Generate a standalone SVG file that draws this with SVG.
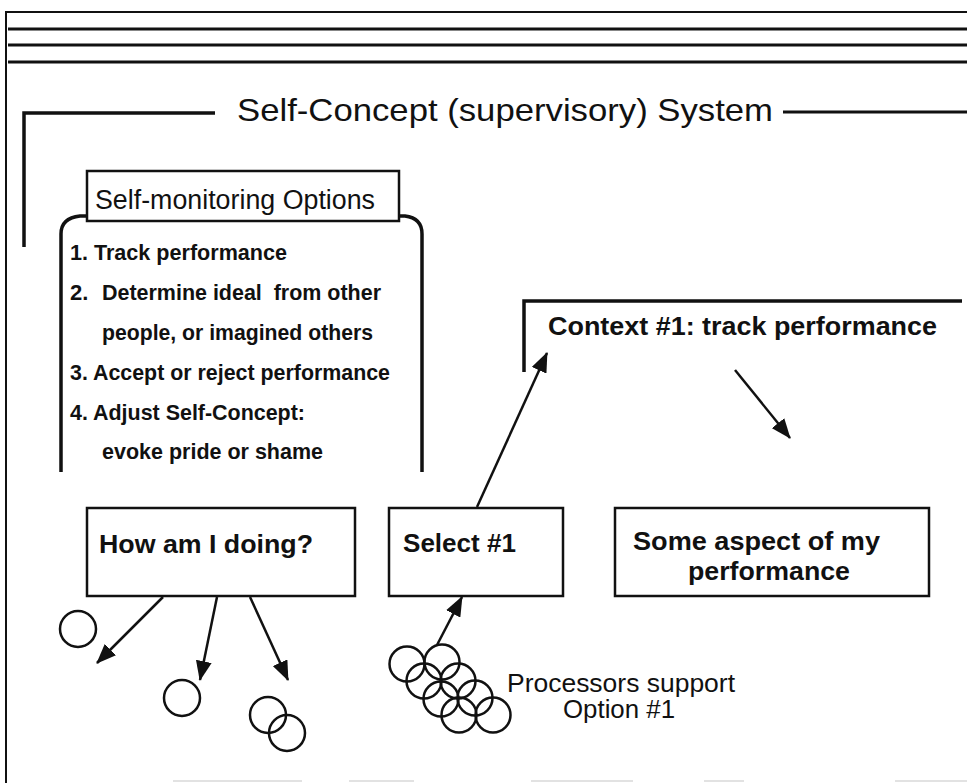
<svg xmlns="http://www.w3.org/2000/svg" width="967" height="783" viewBox="0 0 967 783">
<style>
.ln{stroke:#111;fill:none;stroke-linecap:butt}
.box{fill:#fff;stroke:#111;stroke-width:2.5}
.t{font-family:"Liberation Sans",Arial,Helvetica,sans-serif;fill:#111}
.b{font-weight:bold}
.c{fill:none;stroke:#111;stroke-width:2.5}
.faint{stroke:#e2e2e2;stroke-width:2}
</style>
<defs>
<marker id="ah" viewBox="0 0 20 16" refX="19" refY="8" markerWidth="20" markerHeight="16" markerUnits="userSpaceOnUse" orient="auto">
<path d="M0,0 L20,8 L0,16 Z" fill="#111"/>
</marker>
</defs>
<rect width="967" height="783" fill="#fff"/>
<g id="frame">
<path class="ln" stroke-width="2" d="M967,12 L6,12 L6,783"/>
<line class="ln" stroke-width="3" x1="8" y1="29" x2="967" y2="29"/>
<line class="ln" stroke-width="3" x1="8" y1="45" x2="967" y2="45"/>
<line class="ln" stroke-width="3" x1="8" y1="62" x2="967" y2="62"/>
<line class="faint" x1="173" y1="781" x2="302" y2="781"/>
<line class="faint" x1="349" y1="781" x2="414" y2="781"/>
<line class="faint" x1="531" y1="781" x2="633" y2="781"/>
<line class="faint" x1="704" y1="781" x2="744" y2="781"/>
<line class="faint" x1="895" y1="781" x2="967" y2="781"/>
</g>
<g id="system">
<path class="ln" stroke-width="3.5" d="M215,113 L24,113 L24,247"/>
<line class="ln" stroke-width="3" x1="783" y1="112" x2="967" y2="112"/>
<text class="t" x="237" y="121" font-size="32" textLength="536" lengthAdjust="spacingAndGlyphs">Self-Concept (supervisory) System</text>
</g>
<g id="options">
<path class="ln" stroke-width="3.5" d="M87,216 L80,216 Q61,218 61,234 L61,472"/>
<path class="ln" stroke-width="3.5" d="M399,216 L405,216 Q422,218 422,234 L422,472"/>
<rect class="box" x="87" y="171" width="312" height="50"/>
<text class="t" x="95" y="209" font-size="27" textLength="280" lengthAdjust="spacingAndGlyphs">Self-monitoring Options</text>
<g class="t b" font-size="22">
<text x="70" y="260" textLength="217" lengthAdjust="spacingAndGlyphs">1. Track performance</text>
<text x="70" y="300">2.</text>
<text x="102" y="300" xml:space="preserve" textLength="279" lengthAdjust="spacingAndGlyphs">Determine ideal  from other</text>
<text x="102" y="340" textLength="271" lengthAdjust="spacingAndGlyphs">people, or imagined others</text>
<text x="70" y="380" textLength="320" lengthAdjust="spacingAndGlyphs">3. Accept or reject performance</text>
<text x="70" y="420" textLength="235" lengthAdjust="spacingAndGlyphs">4. Adjust Self-Concept:</text>
<text x="102" y="459" textLength="221" lengthAdjust="spacingAndGlyphs">evoke pride or shame</text>
</g>
</g>
<g id="context">
<path class="ln" stroke-width="3.5" d="M962,301 L524,301 L524,372"/>
<text class="t b" x="548" y="335" font-size="26" textLength="389" lengthAdjust="spacingAndGlyphs">Context #1: track performance</text>
</g>
<g id="how">
<rect class="box" x="87" y="508" width="268" height="88"/>
<text class="t b" x="99" y="553" font-size="25" textLength="214" lengthAdjust="spacingAndGlyphs">How am I doing?</text>
</g>
<g id="select">
<rect class="box" x="389" y="508" width="174" height="88"/>
<text class="t b" x="403" y="552" font-size="25" textLength="113" lengthAdjust="spacingAndGlyphs">Select #1</text>
</g>
<g id="aspect">
<rect class="box" x="615" y="508" width="314" height="88"/>
<text class="t b" x="633" y="550" font-size="25" textLength="247" lengthAdjust="spacingAndGlyphs">Some aspect of my</text>
<text class="t b" x="688" y="580" font-size="25" textLength="162" lengthAdjust="spacingAndGlyphs">performance</text>
</g>
<g id="outcomes">
<circle class="c" cx="78" cy="629" r="18"/>
<circle class="c" cx="182" cy="698" r="18"/>
<circle class="c" cx="268" cy="715" r="18"/>
<circle class="c" cx="287" cy="733" r="18"/>
</g>
<g id="processors">
<circle class="c" cx="407" cy="664" r="17.5"/>
<circle class="c" cx="442" cy="662" r="17.5"/>
<circle class="c" cx="424" cy="681" r="17.5"/>
<circle class="c" cx="458" cy="681" r="17.5"/>
<circle class="c" cx="441" cy="699" r="17.5"/>
<circle class="c" cx="475" cy="698" r="17.5"/>
<circle class="c" cx="459" cy="715" r="17.5"/>
<circle class="c" cx="493" cy="715" r="17.5"/>
<text class="t" x="507" y="692" font-size="25" textLength="228" lengthAdjust="spacingAndGlyphs">Processors support</text>
<text class="t" x="563" y="718" font-size="25" textLength="112" lengthAdjust="spacingAndGlyphs">Option #1</text>
</g>
<g id="connectors" class="ln" stroke-width="2.5">
<line x1="477" y1="507" x2="547" y2="353" marker-end="url(#ah)"/>
<line x1="735" y1="370" x2="790" y2="438" marker-end="url(#ah)"/>
<line x1="437" y1="645" x2="462" y2="597" marker-end="url(#ah)"/>
<line x1="163" y1="597" x2="97" y2="663" marker-end="url(#ah)"/>
<line x1="217" y1="597" x2="200" y2="680" marker-end="url(#ah)"/>
<line x1="250" y1="597" x2="288" y2="680" marker-end="url(#ah)"/>
</g>
</svg>
